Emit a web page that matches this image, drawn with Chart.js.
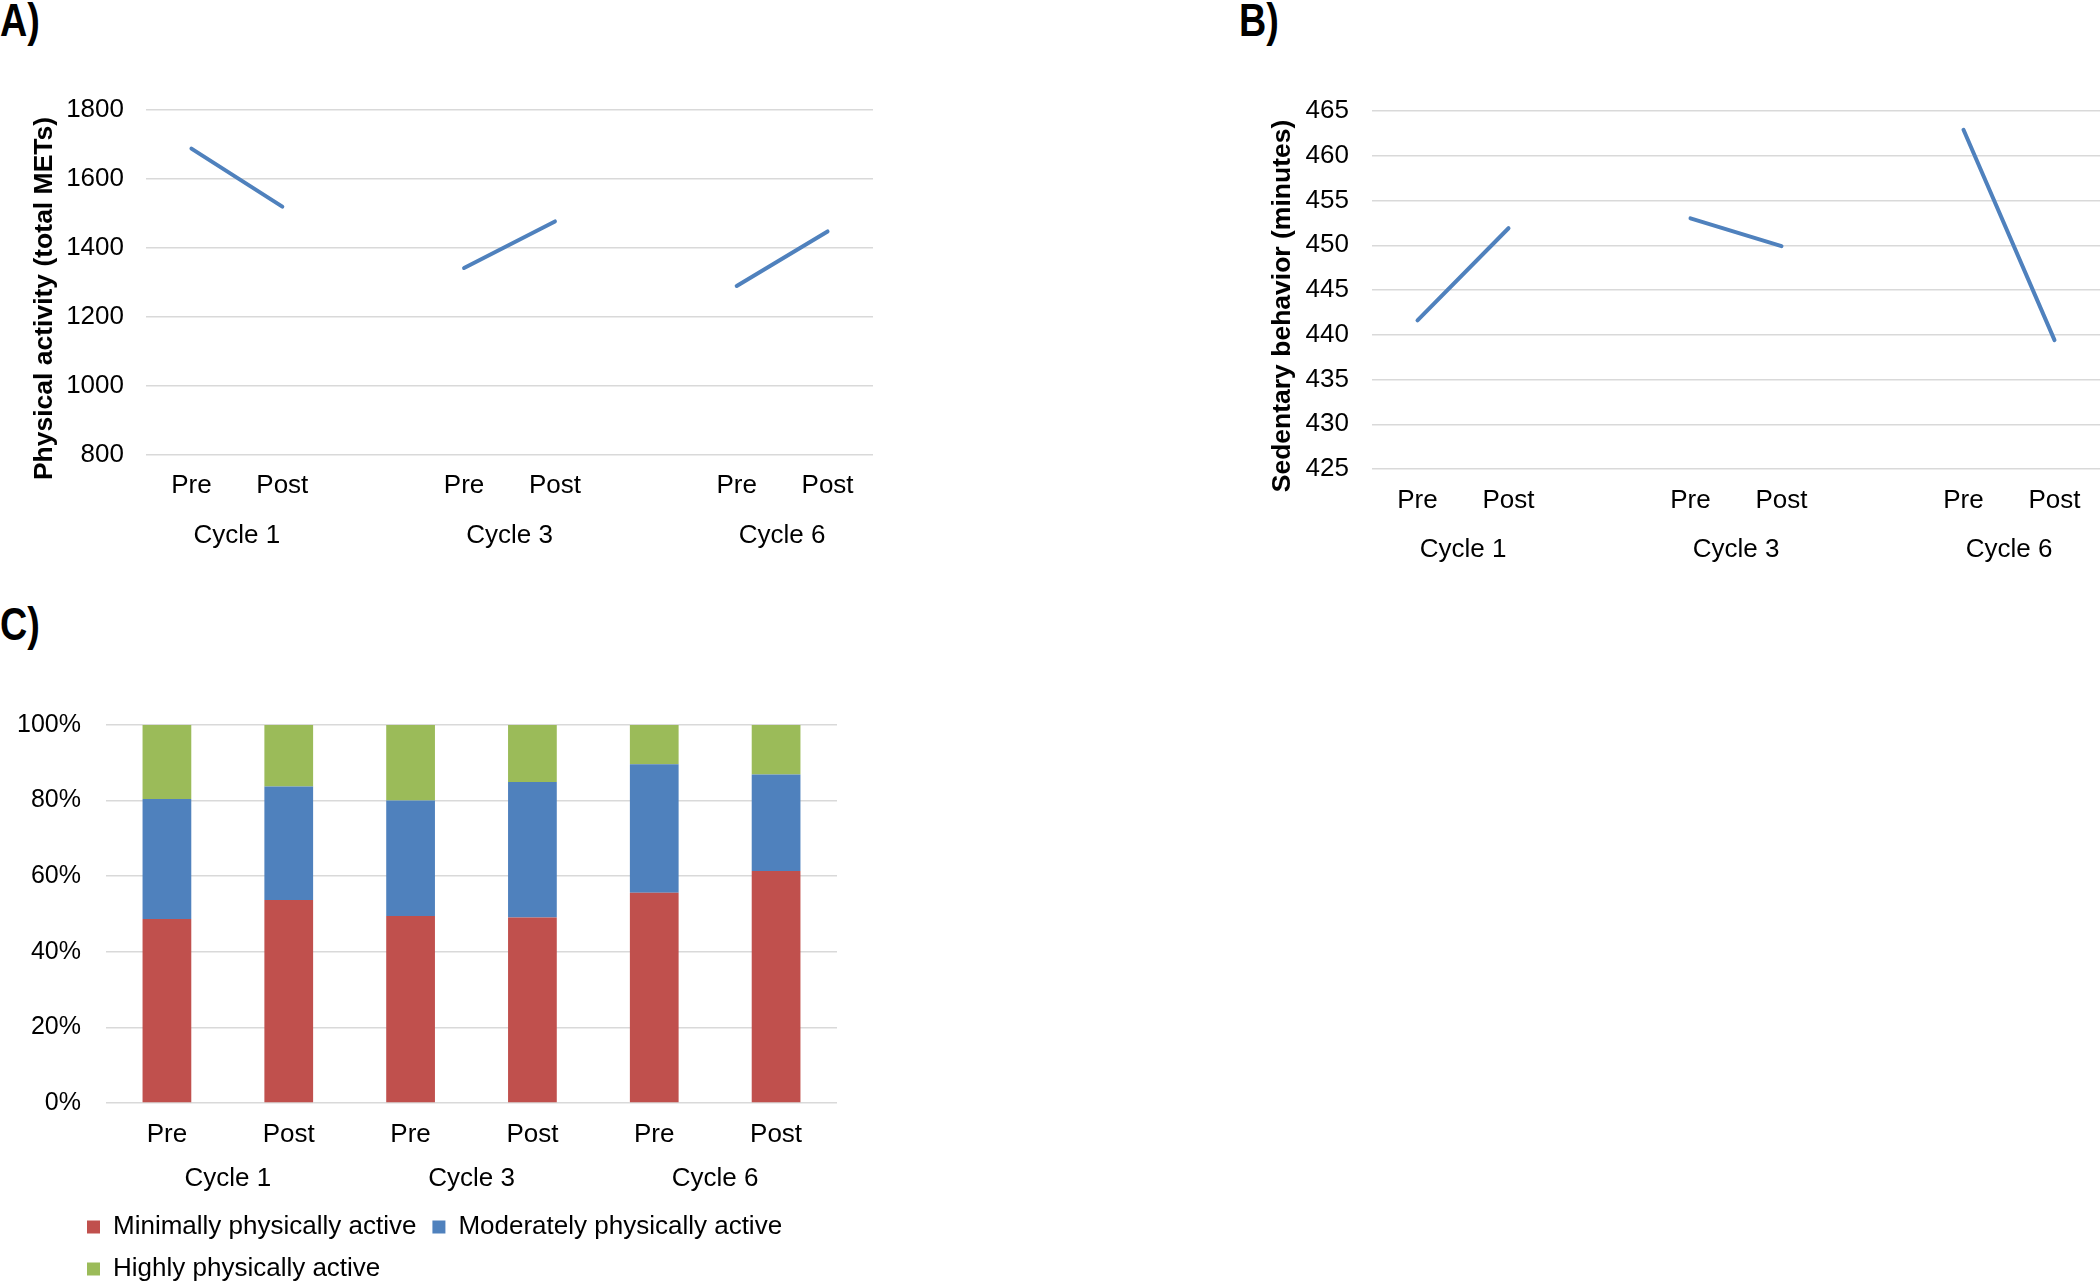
<!DOCTYPE html>
<html>
<head>
<meta charset="utf-8">
<script src="https://cdn.jsdelivr.net/npm/chart.js@4.4.1/dist/chart.umd.min.js"></script>
<style>
  html, body { margin: 0; padding: 0; background: #fff; overflow: hidden; }
  body { position: relative; width: 2100px; height: 1281px; }
  canvas { position: absolute; }
  .panel {
    position: absolute;
    font: bold 46px "Liberation Sans", Arial, sans-serif;
    line-height: 1;
    transform: scaleX(0.82);
    transform-origin: left top;
    color: #000;
  }
</style>
</head>
<body>
<div class="panel" style="left:0; top:-3px;">A)</div>
<div class="panel" style="left:1239px; top:-3px;">B)</div>
<div class="panel" style="left:0; top:601px;">C)</div>
<canvas id="chartA" width="900" height="560" style="left:0; top:0;"></canvas>
<canvas id="chartB" width="860" height="580" style="left:1240px; top:0;"></canvas>
<canvas id="chartC" width="900" height="700" style="left:0; top:600px;"></canvas>
<script>
// categories
const cycles = ['Cycle 1', 'Cycle 3', 'Cycle 6'];
const phases = ['Pre', 'Post'];

// A) physical activity, total METs
const metsPre = [1688, 1342, 1290];
const metsPost = [1520, 1477, 1448];

// B) sedentary behaviour, minutes
const sedentaryPre = [441.6, 453.0, 462.9];
const sedentaryPost = [451.9, 449.9, 439.4];

// C) share of participants (%), order: Pre/Post for cycle 1, 3, 6
const minimallyActive = [48.7, 53.7, 49.5, 49.1, 55.6, 61.4];
const moderatelyActive = [31.7, 30.0, 30.5, 35.8, 34.0, 25.5];
const highlyActive = [19.6, 16.3, 20.0, 15.1, 10.4, 13.1];

const FONT = "'Liberation Sans', Arial, sans-serif";
const GRID = '#D9D9D9';
const LINE_BLUE = '#4F81BD';

Chart.defaults.font.family = FONT;
Chart.defaults.color = '#000';
Chart.defaults.animation = false;

// line panels use an empty slot between cycles, like the Excel original
const gapLabels = [];
cycles.forEach((c, i) => {
    phases.forEach(p => gapLabels.push(p));
    if (i < cycles.length - 1) gapLabels.push('');
});
function gapped(pre, post) {
    const out = [];
    cycles.forEach((c, i) => {
        out.push(pre[i], post[i]);
        if (i < cycles.length - 1) out.push(null);
    });
    return out;
}
function groupsFor(step) {
    return cycles.map((c, i) => ({ text: c, first: i * step, last: i * step + 1 }));
}

const barLabels = [];
cycles.forEach(() => phases.forEach(p => barLabels.push(p)));

// draws "Cycle n" under each Pre/Post pair
const cycleLabels = {
    id: 'cycleLabels',
    afterDraw(chart, args, opts) {
        const { ctx, chartArea, scales: { x } } = chart;
        ctx.save();
        ctx.font = '26px ' + FONT;
        ctx.fillStyle = '#000';
        ctx.textAlign = 'center';
        ctx.textBaseline = 'middle';
        opts.groups.forEach(g => {
            const xPos = (x.getPixelForValue(g.first) + x.getPixelForValue(g.last)) / 2;
            ctx.fillText(g.text, xPos, chartArea.bottom + opts.offset);
        });
        ctx.restore();
    }
};

// rotated y title, a bit below the plot centre as in Excel
const axisTitle = {
    id: 'axisTitle',
    afterDraw(chart, args, opts) {
        if (!opts.text) return;
        const { ctx, chartArea } = chart;
        ctx.save();
        ctx.font = 'bold 26.5px ' + FONT;
        ctx.fillStyle = '#000';
        ctx.translate(opts.x, (chartArea.top + chartArea.bottom) / 2 + opts.shift);
        ctx.rotate(-Math.PI / 2);
        ctx.textAlign = 'center';
        ctx.textBaseline = 'middle';
        ctx.fillText(opts.text, 0, 0);
        ctx.restore();
    }
};

// moves the legend right without shrinking the tick label box
const legendShift = {
    id: 'legendShift',
    afterLayout(chart, args, opts) {
        if (chart.legend && opts.dx) {
            chart.legend.left += opts.dx;
            chart.legend.right += opts.dx;
        }
    }
};

function lineChart(id, values, yOpts, box) {
    return new Chart(document.getElementById(id), {
        type: 'line',
        data: {
            labels: gapLabels,
            datasets: [{
                data: values,
                borderColor: LINE_BLUE,
                borderWidth: 4,
                borderCapStyle: 'round',
                pointRadius: 0,
                spanGaps: false,
                tension: 0
            }]
        },
        options: {
            responsive: false,
            layout: { padding: { top: box.top, right: box.right, left: 0, bottom: 0 } },
            plugins: {
                legend: { display: false },
                tooltip: { enabled: false },
                cycleLabels: { groups: groupsFor(3), offset: 81 },
                axisTitle: { text: yOpts.title, x: box.titleX, shift: 16 }
            },
            scales: {
                x: {
                    offset: true,
                    grid: { display: false },
                    border: { display: false },
                    ticks: { font: { size: 26 }, padding: box.xPad, autoSkip: false, maxRotation: 0 },
                    afterFit: s => { s.height = box.xHeight; }
                },
                y: {
                    min: yOpts.min,
                    max: yOpts.max,
                    grid: { color: GRID, lineWidth: 1.5, drawTicks: false },
                    border: { display: false },
                    ticks: { stepSize: yOpts.step, font: { size: 26 }, padding: box.yPad, callback: v => String(v) },
                    afterFit: s => { s.width = box.yWidth; }
                }
            }
        },
        plugins: [cycleLabels, axisTitle]
    });
}

lineChart('chartA', gapped(metsPre, metsPost),
    { min: 800, max: 1800, step: 200, title: 'Physical activity (total METs)' },
    { top: 110, right: 27, yWidth: 146, yPad: 22, titleX: 45, xHeight: 105, xPad: 7 });

lineChart('chartB', gapped(sedentaryPre, sedentaryPost),
    { min: 425, max: 465, step: 5, title: 'Sedentary behavior (minutes)' },
    { top: 111, right: 0, yWidth: 132, yPad: 23, titleX: 43, xHeight: 111, xPad: 8 });

new Chart(document.getElementById('chartC'), {
    type: 'bar',
    data: {
        labels: barLabels,
        datasets: [
            { label: 'Minimally physically active', data: minimallyActive, backgroundColor: '#C0504D' },
            { label: 'Moderately physically active', data: moderatelyActive, backgroundColor: '#4F81BD' },
            { label: 'Highly physically active', data: highlyActive, backgroundColor: '#9BBB59' }
        ]
    },
    options: {
        responsive: false,
        datasets: { bar: { barPercentage: 0.4, categoryPercentage: 1.0, borderWidth: 0 } },
        layout: { padding: { top: 125, right: 63, left: 0, bottom: 8 } },
        plugins: {
            tooltip: { enabled: false },
            legend: {
                position: 'bottom',
                align: 'start',
                labels: { boxWidth: 13, boxHeight: 13, padding: 16, font: { size: 26 }, color: '#000' }
            },
            legendShift: { dx: 71 },
            cycleLabels: { groups: groupsFor(2), offset: 76 }
        },
        scales: {
            x: {
                stacked: true,
                grid: { display: false },
                border: { display: false },
                ticks: { font: { size: 26 }, padding: 8, autoSkip: false, maxRotation: 0 },
                afterFit: s => { s.height = 95; }
            },
            y: {
                stacked: true,
                min: 0,
                max: 100,
                grid: { color: GRID, lineWidth: 1.5, drawTicks: false },
                border: { display: false },
                ticks: { stepSize: 20, font: { size: 25 }, padding: 25, callback: v => v + '%' },
                afterFit: s => { s.width = 106; }
            }
        }
    },
    plugins: [cycleLabels, legendShift]
});
</script>
</body>
</html>
